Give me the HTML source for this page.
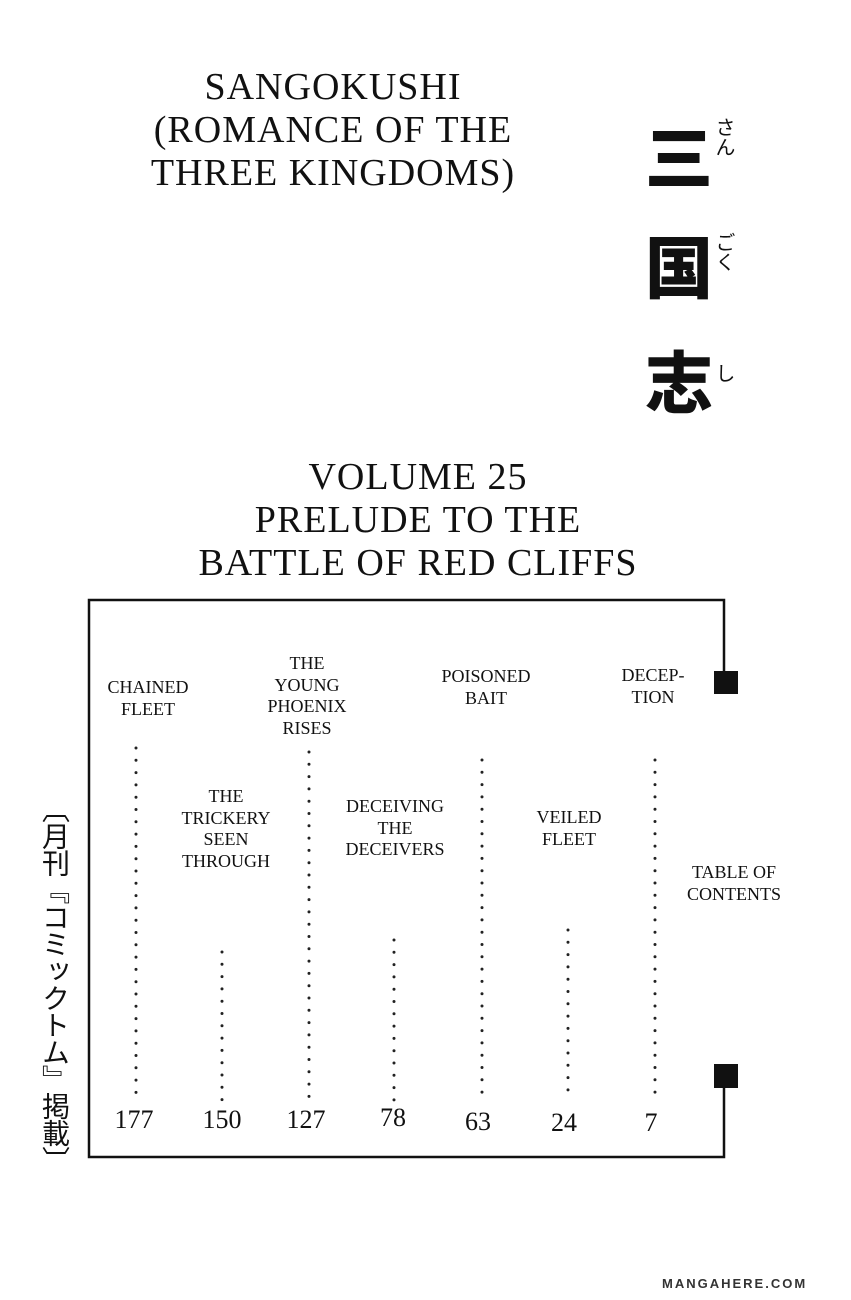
<!DOCTYPE html>
<html><head><meta charset="utf-8"><style>
body{margin:0;width:851px;height:1300px;background:#fff;position:relative;overflow:hidden;font-family:"Liberation Serif",serif;color:#111}
.t{position:absolute;text-align:center;text-transform:uppercase;white-space:nowrap}
.h{font-size:38px;line-height:43px;letter-spacing:1px}
.l{font-size:18px;line-height:21.5px;transform:translateX(-50%)}
.n{font-size:26px;transform:translateX(-50%)}
.k{position:absolute;font-family:"Noto Sans CJK JP",sans-serif;font-weight:900;font-size:68px;line-height:68px}
.r{position:absolute;font-family:"Noto Sans CJK JP",sans-serif;font-size:20px;writing-mode:vertical-rl;line-height:20px}
</style></head><body>
<div class="t h" style="left:100px;width:466px;top:66px">Sangokushi<br>(Romance of the<br>Three Kingdoms)</div>
<div class="k" style="left:645px;top:120px">三</div>
<div class="k" style="left:645px;top:230px">国</div>
<div class="k" style="left:645px;top:345px">志</div>
<div class="r" style="left:715px;top:117px">さん</div>
<div class="r" style="left:715px;top:232px">ごく</div>
<div class="r" style="left:715px;top:363px">し</div>
<div class="t h" style="left:150px;width:536px;top:456px">Volume 25<br>Prelude to the<br>Battle of Red Cliffs</div>

<svg style="position:absolute;left:0;top:0" width="851" height="1300">
<path d="M724 683 V600 H89 V1157 H724 V1082" fill="none" stroke="#111" stroke-width="2.5"/>
<rect x="714" y="671" width="24" height="23" fill="#111"/>
<rect x="714" y="1064" width="24" height="24" fill="#111"/>
<g stroke="#222" stroke-width="3" stroke-linecap="round" stroke-dasharray="0 12.3">
<line x1="136" y1="748" x2="136" y2="1100"/>
<line x1="222" y1="952" x2="222" y2="1100"/>
<line x1="309" y1="752" x2="309" y2="1100"/>
<line x1="394" y1="940" x2="394" y2="1100"/>
<line x1="482" y1="760" x2="482" y2="1100"/>
<line x1="568" y1="930" x2="568" y2="1100"/>
<line x1="655" y1="760" x2="655" y2="1100"/>
</g>
</svg>

<div class="t l" style="left:148px;top:677px">Chained<br>Fleet</div>
<div class="t l" style="left:226px;top:786px">The<br>Trickery<br>Seen<br>Through</div>
<div class="t l" style="left:307px;top:653px">The<br>Young<br>Phoenix<br>Rises</div>
<div class="t l" style="left:395px;top:796px">Deceiving<br>The<br>Deceivers</div>
<div class="t l" style="left:486px;top:666px">Poisoned<br>Bait</div>
<div class="t l" style="left:569px;top:807px">Veiled<br>Fleet</div>
<div class="t l" style="left:653px;top:665px">Decep-<br>tion</div>
<div class="t l" style="left:734px;top:862px">Table of<br>Contents</div>

<div class="t n" style="left:134px;top:1105px">177</div>
<div class="t n" style="left:222px;top:1105px">150</div>
<div class="t n" style="left:306px;top:1105px">127</div>
<div class="t n" style="left:393px;top:1103px">78</div>
<div class="t n" style="left:478px;top:1107px">63</div>
<div class="t n" style="left:564px;top:1108px">24</div>
<div class="t n" style="left:651px;top:1108px">7</div>

<div class="r" style="left:42px;top:795px;font-size:28px;line-height:28px;letter-spacing:-1px">〔月刊『コミックトム』掲載〕</div>
<div style="position:absolute;left:662px;top:1276px;font-family:'Liberation Sans',sans-serif;font-size:13px;font-weight:bold;letter-spacing:2px;color:#333">MANGAHERE.COM</div>
</body></html>
